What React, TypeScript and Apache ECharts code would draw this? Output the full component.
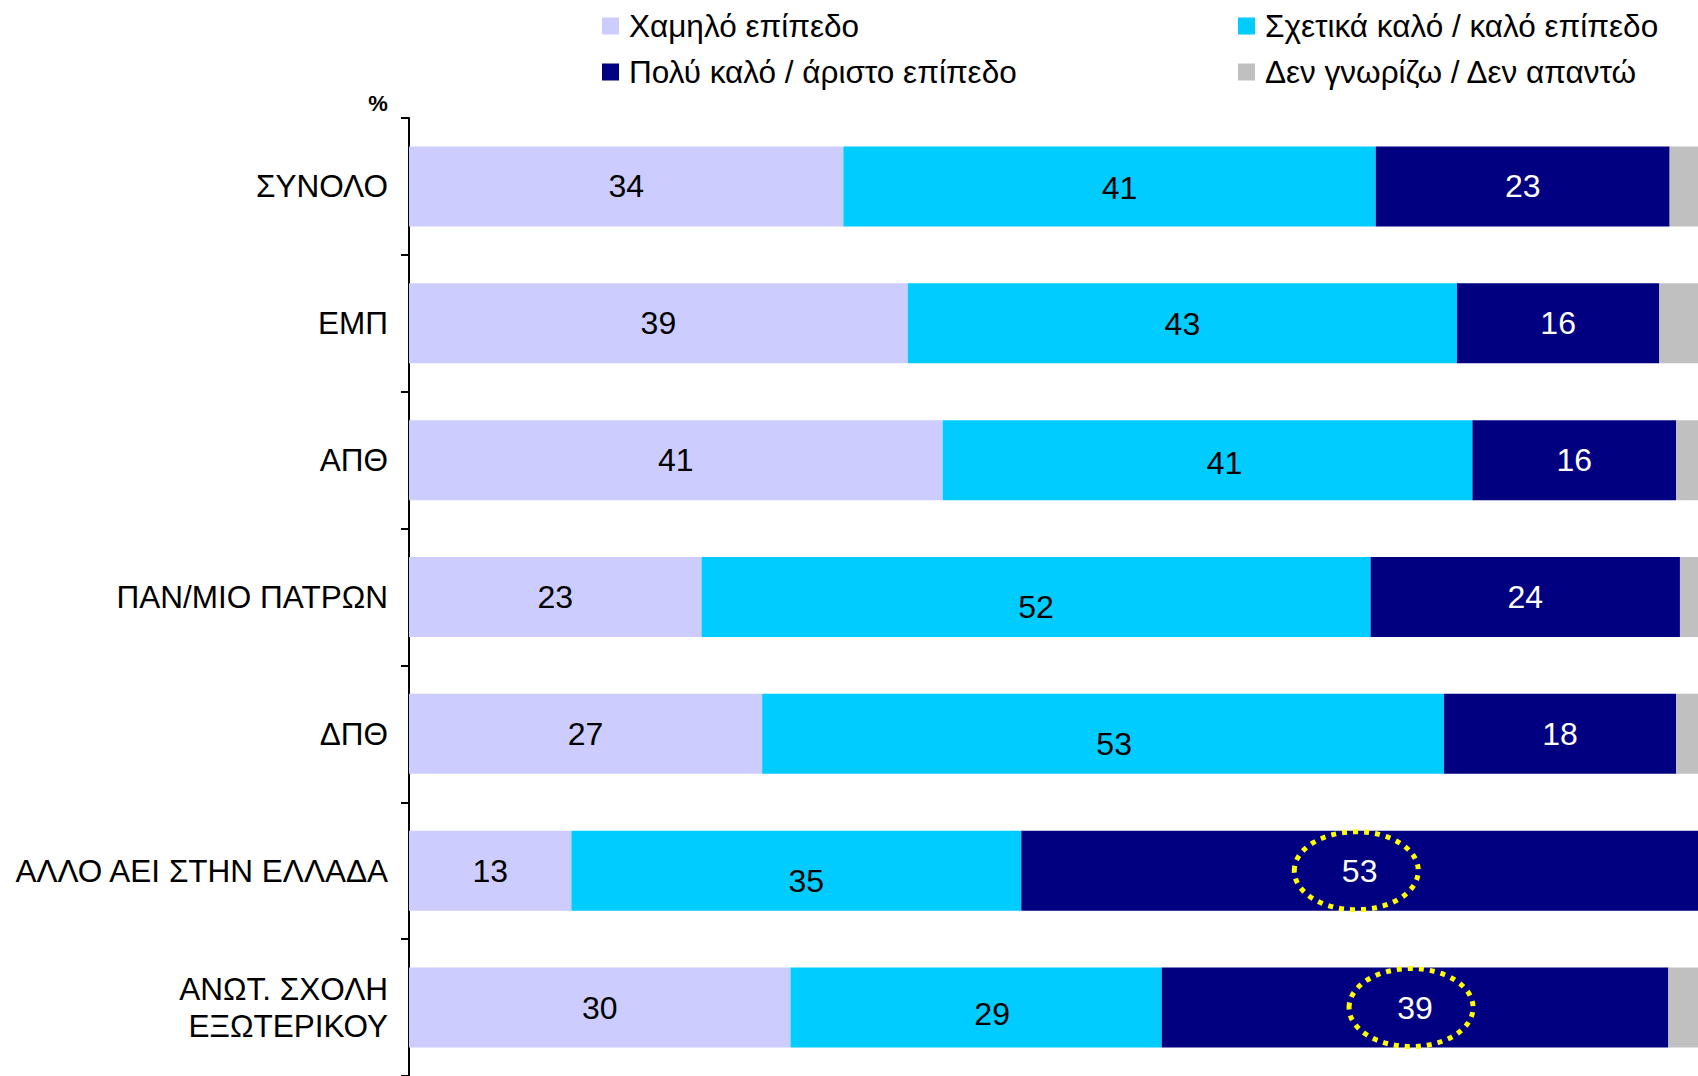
import React, { useEffect, useRef } from "react";
import * as echarts from "echarts";

const categories = [
  "ΣΥΝΟΛΟ",
  "ΕΜΠ",
  "ΑΠΘ",
  "ΠΑΝ/ΜΙΟ ΠΑΤΡΩΝ",
  "ΔΠΘ",
  "ΑΛΛΟ ΑΕΙ ΣΤΗΝ ΕΛΛΑΔΑ",
  "ΑΝΩΤ. ΣΧΟΛΗ\nΕΞΩΤΕΡΙΚΟΥ",
];

const seriesNames = [
  "Χαμηλό επίπεδο",
  "Σχετικά καλό / καλό επίπεδο",
  "Πολύ καλό / άριστο επίπεδο",
  "Δεν γνωρίζω / Δεν απαντώ",
];

const lowLevel = [33.7, 38.7, 41.4, 22.7, 27.4, 12.6, 29.6];
const goodLevel = [41.3, 42.6, 41.1, 51.9, 52.9, 34.9, 28.8];
const excellentLevel = [22.8, 15.7, 15.8, 24.0, 18.0, 52.6, 39.3];
const dontKnow = [2.2, 3.0, 1.7, 1.4, 1.7, 0, 2.3];

// rows whose "Πολύ καλό / άριστο" value is circled in the reference
const circledRows = [5, 6];

// styling: label nudges of the middle (cyan) segment as placed in the reference
const goodLabelOffsets = [
  [10, 2],
  [0, 1],
  [17, 3],
  [0, 10],
  [11, 10],
  [10, 10],
  [16, 6],
];

const colors = ["#CCCCFF", "#00CCFF", "#000080", "#C0C0C0"];
const labelColors = ["#000000", "#000000", "#FFFFFF", "#000000"];
const FONT = '"Liberation Sans", Arial, Helvetica, sans-serif';

export default function App() {
  const ref = useRef<HTMLDivElement>(null);

  useEffect(() => {
    if (!ref.current) return;
    const chart = echarts.init(ref.current, undefined, { renderer: "svg" });
    const values = [lowLevel, goodLevel, excellentLevel, dontKnow];

    const percentText = {
      type: "text",
      id: "pct",
      x: 378,
      y: 103,
      style: {
        text: "%",
        fontSize: 22,
        fontWeight: "bold",
        fontFamily: FONT,
        fill: "#000",
        textAlign: "center",
        textVerticalAlign: "middle",
      },
    };

    const legendBase = {
      orient: "vertical",
      top: 10,
      padding: 0,
      itemWidth: 17,
      itemHeight: 17,
      itemGap: 14,
      icon: "rect",
      textStyle: { fontSize: 31.5, lineHeight: 30, color: "#000", fontFamily: FONT, padding: [0, 0, 0, 5] },
    };

    chart.setOption({
      animation: false,
      backgroundColor: "#FFFFFF",
      textStyle: { fontFamily: FONT },
      grid: { left: 409, right: 0, top: 118, bottom: 0, containLabel: false },
      legend: [
        { ...legendBase, data: [seriesNames[0], seriesNames[2]], left: 602 },
        { ...legendBase, data: [seriesNames[1], seriesNames[3]], left: 1238 },
      ],
      xAxis: {
        type: "value",
        min: 0,
        max: 100,
        show: false,
      },
      yAxis: {
        type: "category",
        data: categories,
        inverse: true,
        axisLine: { show: true, lineStyle: { color: "#000", width: 2 } },
        axisTick: { show: true, length: 8, lineStyle: { color: "#000", width: 2 } },
        axisLabel: {
          fontSize: 31.5,
          lineHeight: 37,
          color: "#000",
          margin: 21,
          fontFamily: FONT,
          align: "right",
        },
        splitLine: { show: false },
      },
      series: seriesNames.map((name, si) => ({
        name,
        type: "bar",
        stack: "total",
        barWidth: 80,
        data: values[si].map((v, i) =>
          si === 1 ? { value: v, label: { offset: goodLabelOffsets[i] } } : v
        ),
        itemStyle: { color: colors[si] },
        label: {
          show: si < 3,
          position: "inside",
          fontSize: 32,
          fontFamily: FONT,
          color: labelColors[si],
          formatter: (p: any) => String(Math.round(p.value)),
        },
      })),
      graphic: [percentText],
    });

    const ellipses = circledRows.map((row, k) => {
      const mid = lowLevel[row] + goodLevel[row] + excellentLevel[row] / 2;
      const pt = chart.convertToPixel({ xAxisIndex: 0, yAxisIndex: 0 }, [mid, row]) as number[];
      return {
        type: "ellipse",
        id: "ell" + k,
        shape: { cx: pt[0] - 4, cy: pt[1], rx: 62, ry: 39 },
        style: { fill: "none", stroke: "#FFFF00", lineWidth: 5, lineDash: [5, 6] },
        z: 100,
      };
    });
    chart.setOption({ graphic: [percentText, ...ellipses] });

    return () => chart.dispose();
  }, []);

  return (
    <div
      ref={ref}
      style={{ position: "absolute", left: 0, top: 0, width: 1698, height: 1076, background: "#fff" }}
    />
  );
}
